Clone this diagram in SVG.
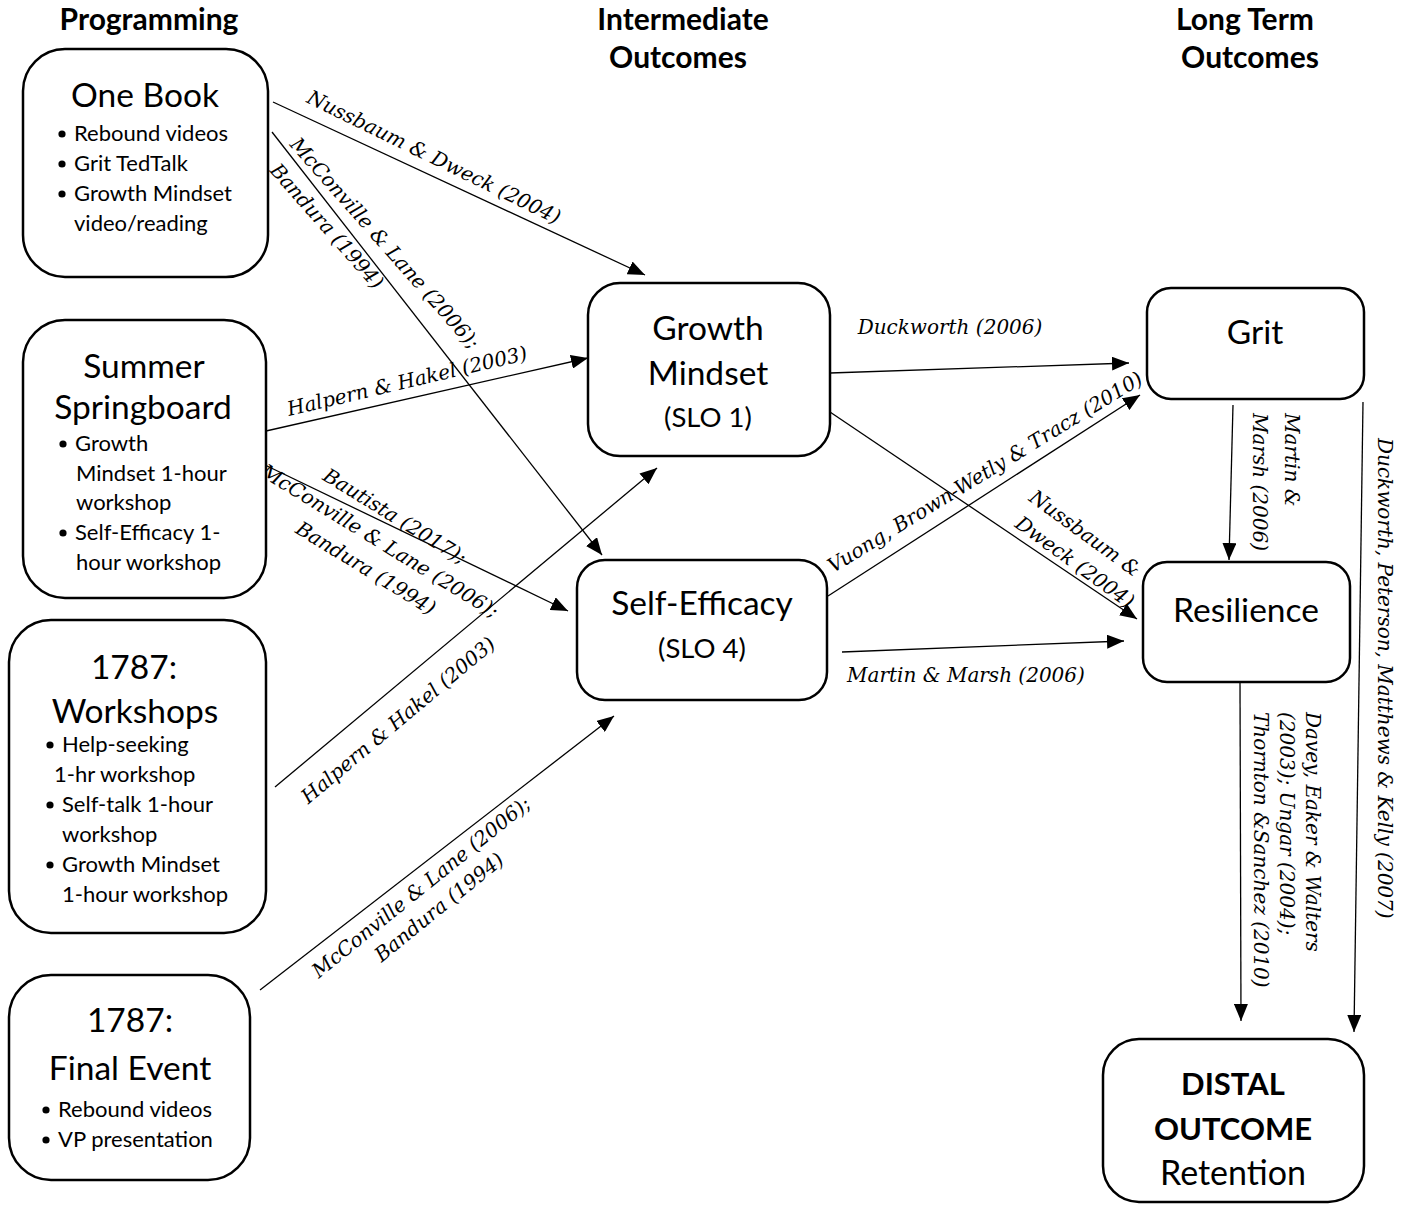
<svg xmlns="http://www.w3.org/2000/svg" width="1408" height="1205" viewBox="0 0 1408 1205">
<style>
.box{fill:#fff;stroke:#000;stroke-width:2.5}
.hd{font-family:Lato,"Liberation Sans",sans-serif;font-weight:bold;font-size:30px;text-anchor:middle}
.tt{font-family:Lato,"Liberation Sans",sans-serif;font-size:33.5px;text-anchor:middle}
.sl{font-family:Lato,"Liberation Sans",sans-serif;font-size:27.5px;text-anchor:middle}
.bl{font-family:Lato,"Liberation Sans",sans-serif;font-size:22px}
.dst{font-family:Lato,"Liberation Sans",sans-serif;font-size:31px;text-anchor:middle}
.lb{font-family:"DejaVu Serif","Liberation Serif",serif;font-style:italic;font-size:20px;text-anchor:middle}
.lbs{font-family:"DejaVu Serif","Liberation Serif",serif;font-style:italic;font-size:20px}
.cn line{stroke:#000;stroke-width:1.3;marker-end:url(#ah)}
</style>
<defs>
<marker id="ah" markerUnits="userSpaceOnUse" markerWidth="17" markerHeight="14" refX="17" refY="7" orient="auto">
<path d="M0,0 L17,7 L0,14 z" fill="#000"/>
</marker>
</defs>
<rect width="1408" height="1205" fill="#fff"/>

<g id="headers">
<text class="hd" x="149" y="30">Programming</text>
<text class="hd" x="683" y="30">Intermediate</text>
<text class="hd" x="678" y="68">Outcomes</text>
<text class="hd" x="1245" y="30">Long Term</text>
<text class="hd" x="1250" y="68">Outcomes</text>
</g>

<g class="cn" id="connectors">
<line x1="273" y1="102" x2="645" y2="275"/>
<line x1="272" y1="132" x2="602" y2="555"/>
<line x1="266" y1="431" x2="588" y2="358"/>
<line x1="265" y1="465" x2="568" y2="611"/>
<line x1="275" y1="787" x2="657" y2="468"/>
<line x1="260" y1="990" x2="614" y2="716"/>
<line x1="830" y1="373" x2="1129" y2="363"/>
<line x1="830" y1="412" x2="1137" y2="619"/>
<line x1="828" y1="596" x2="1140" y2="395"/>
<line x1="842" y1="652" x2="1124" y2="641"/>
<line x1="1233" y1="405" x2="1229" y2="560"/>
<line x1="1240" y1="683" x2="1241" y2="1021"/>
<line x1="1363" y1="402" x2="1354" y2="1032"/>
</g>

<g id="labels">
<g transform="translate(434,157) rotate(26)"><text class="lb" y="7">Nussbaum &amp; Dweck (2004)</text></g>
<g transform="translate(385,243) rotate(48.5)"><text class="lb" y="7">McConville &amp; Lane (2006);</text></g>
<g transform="translate(327,226) rotate(48.5)"><text class="lb" y="7">Bandura (1994)</text></g>
<g transform="translate(407,381) rotate(-13.3)"><text class="lb" y="7">Halpern &amp; Hakel (2003)</text></g>
<g transform="translate(395,516) rotate(31.5)"><text class="lb" y="7">Bautista (2017);</text></g>
<g transform="translate(380,541) rotate(31.5)"><text class="lb" y="7">McConville &amp; Lane (2006);</text></g>
<g transform="translate(366,568) rotate(31.5)"><text class="lb" y="7">Bandura (1994)</text></g>
<g transform="translate(398,720) rotate(-40)"><text class="lb" y="7">Halpern &amp; Hakel (2003)</text></g>
<g transform="translate(421,887) rotate(-39)"><text class="lb" y="7">McConville &amp; Lane (2006);</text></g>
<g transform="translate(439,907) rotate(-39)"><text class="lb" y="7">Bandura (1994)</text></g>
<text class="lb" x="950" y="334">Duckworth (2006)</text>
<g transform="translate(1085,533) rotate(36)"><text class="lb" y="7">Nussbaum &amp;</text></g>
<g transform="translate(1075,562) rotate(36)"><text class="lb" y="7">Dweck (2004)</text></g>
<g transform="translate(985,472) rotate(-31.5)"><text class="lb" y="7">Vuong, Brown-Wetly &amp; Tracz (2010)</text></g>
<text class="lb" x="966" y="682">Martin &amp; Marsh (2006)</text>
<g transform="translate(1292,413) rotate(90)"><text class="lbs" y="7">Martin &amp;</text></g>
<g transform="translate(1260,413) rotate(90)"><text class="lbs" y="7">Marsh (2006)</text></g>
<g transform="translate(1313,712) rotate(90)"><text class="lbs" y="7">Davey, Eaker &amp; Walters</text></g>
<g transform="translate(1287,712) rotate(90)"><text class="lbs" y="7">(2003); Ungar (2004);</text></g>
<g transform="translate(1261,712) rotate(90)"><text class="lbs" y="7">Thornton &amp;Sanchez (2010)</text></g>
<g transform="translate(1385,438) rotate(90)"><text class="lbs" y="7">Duckworth, Peterson, Matthews &amp; Kelly (2007)</text></g>
</g>

<g id="one-book">
<rect class="box" x="23" y="49" width="245" height="228" rx="42"/>
<text class="tt" x="145" y="107">One Book</text>
<circle cx="62" cy="134" r="3.6"/><text class="bl" x="74" y="141">Rebound videos</text>
<circle cx="62" cy="164" r="3.6"/><text class="bl" x="74" y="171">Grit TedTalk</text>
<circle cx="62" cy="194" r="3.6"/><text class="bl" x="74" y="201">Growth Mindset</text>
<text class="bl" x="74" y="231">video/reading</text>
</g>

<g id="summer-springboard">
<rect class="box" x="23" y="320" width="243" height="278" rx="42"/>
<text class="tt" x="144" y="378">Summer</text>
<text class="tt" x="143" y="419">Springboard</text>
<circle cx="63" cy="444" r="3.6"/><text class="bl" x="75" y="451">Growth</text>
<text class="bl" x="76" y="481">Mindset 1-hour</text>
<text class="bl" x="76" y="510">workshop</text>
<circle cx="63" cy="533" r="3.6"/><text class="bl" x="75" y="540">Self-Efficacy 1-</text>
<text class="bl" x="76" y="570">hour workshop</text>
</g>

<g id="workshops">
<rect class="box" x="9" y="620" width="257" height="313" rx="42"/>
<text class="tt" x="134" y="679">1787:</text>
<text class="tt" x="135" y="723">Workshops</text>
<circle cx="50" cy="745" r="3.6"/><text class="bl" x="62" y="752">Help-seeking</text>
<text class="bl" x="54" y="782">1-hr workshop</text>
<circle cx="50" cy="805" r="3.6"/><text class="bl" x="62" y="812">Self-talk 1-hour</text>
<text class="bl" x="62" y="842">workshop</text>
<circle cx="50" cy="865" r="3.6"/><text class="bl" x="62" y="872">Growth Mindset</text>
<text class="bl" x="62" y="902">1-hour workshop</text>
</g>

<g id="final-event">
<rect class="box" x="9" y="975" width="241" height="205" rx="42"/>
<text class="tt" x="130" y="1032">1787:</text>
<text class="tt" x="130" y="1080">Final Event</text>
<circle cx="46" cy="1110" r="3.6"/><text class="bl" x="58" y="1117">Rebound videos</text>
<circle cx="46" cy="1140" r="3.6"/><text class="bl" x="58" y="1147">VP presentation</text>
</g>

<g id="growth-mindset">
<rect class="box" x="588" y="283" width="242" height="173" rx="32"/>
<text class="tt" x="708" y="340">Growth</text>
<text class="tt" x="708" y="385">Mindset</text>
<text class="sl" x="708" y="427">(SLO 1)</text>
</g>

<g id="self-efficacy">
<rect class="box" x="577" y="560" width="250" height="140" rx="28"/>
<text class="tt" x="702" y="615">Self-Efficacy</text>
<text class="sl" x="702" y="658">(SLO 4)</text>
</g>

<g id="grit">
<rect class="box" x="1147" y="288" width="217" height="111" rx="24"/>
<text class="tt" x="1255" y="344">Grit</text>
</g>

<g id="resilience">
<rect class="box" x="1143" y="562" width="207" height="120" rx="24"/>
<text class="tt" x="1246" y="622">Resilience</text>
</g>

<g id="distal-outcome">
<rect class="box" x="1103" y="1039" width="261" height="163" rx="36"/>
<text class="dst" x="1233" y="1095" font-weight="bold">DISTAL</text>
<text class="dst" x="1233" y="1140" font-weight="bold">OUTCOME</text>
<text class="dst" x="1233" y="1185" style="font-size:34px">Retention</text>
</g>
</svg>
